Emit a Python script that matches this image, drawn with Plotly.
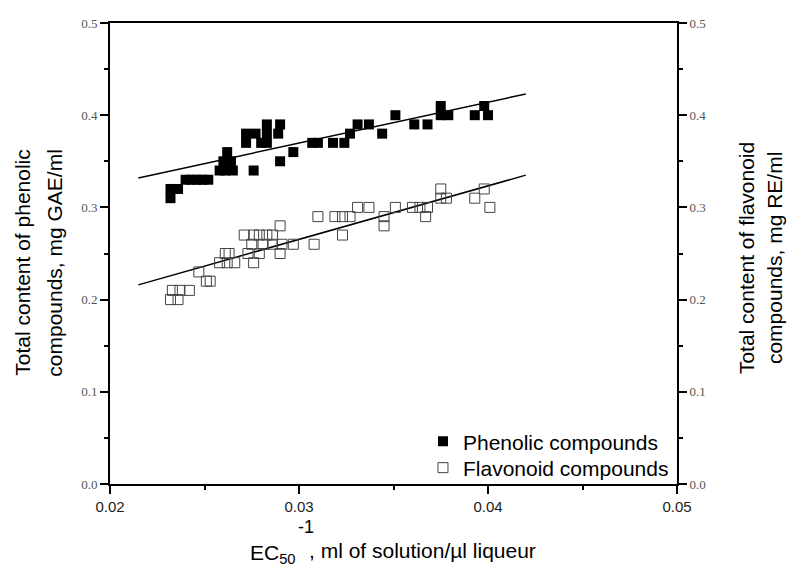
import plotly.graph_objects as go

# ---- data ----
phen_x = [0.0232, 0.0232, 0.0236, 0.0240, 0.0243, 0.0246, 0.0249, 0.0252,
          0.0258, 0.0261, 0.0265, 0.0260, 0.0264, 0.0262, 0.0276,
          0.0272, 0.0277, 0.0283, 0.0289, 0.0272, 0.0280, 0.0283,
          0.0283, 0.0290, 0.0290, 0.0297, 0.0307, 0.0310, 0.0318, 0.0324,
          0.0327, 0.0331, 0.0337, 0.0344, 0.0351, 0.0361, 0.0368,
          0.0375, 0.0375, 0.0379, 0.0393, 0.0398, 0.0400]
phen_y = [0.31, 0.32, 0.32, 0.33, 0.33, 0.33, 0.33, 0.33,
          0.34, 0.34, 0.34, 0.35, 0.35, 0.36, 0.34,
          0.38, 0.38, 0.38, 0.38, 0.37, 0.37, 0.37,
          0.39, 0.39, 0.35, 0.36, 0.37, 0.37, 0.37, 0.37,
          0.38, 0.39, 0.39, 0.38, 0.40, 0.39, 0.39,
          0.41, 0.40, 0.40, 0.40, 0.41, 0.40]

flav_x = [0.0232, 0.0236, 0.0233, 0.0237, 0.0242, 0.0251, 0.0253, 0.0247,
          0.0258, 0.0262, 0.0266, 0.0261, 0.0263,
          0.0271, 0.0276, 0.0279, 0.0283, 0.0286, 0.0275, 0.0281, 0.0286,
          0.0273, 0.0279, 0.0276, 0.0291, 0.0290, 0.0290, 0.0297, 0.0308,
          0.0310, 0.0319, 0.0323, 0.0327, 0.0323, 0.0331, 0.0337,
          0.0345, 0.0345, 0.0351, 0.0360, 0.0364, 0.0368, 0.0367,
          0.0375, 0.0375, 0.0378, 0.0393, 0.0398, 0.0401]
flav_y = [0.20, 0.20, 0.21, 0.21, 0.21, 0.22, 0.22, 0.23,
          0.24, 0.24, 0.24, 0.25, 0.25,
          0.27, 0.27, 0.27, 0.27, 0.27, 0.26, 0.26, 0.26,
          0.25, 0.25, 0.24, 0.26, 0.25, 0.28, 0.26, 0.26,
          0.29, 0.29, 0.29, 0.29, 0.27, 0.30, 0.30,
          0.29, 0.28, 0.30, 0.30, 0.30, 0.30, 0.29,
          0.32, 0.31, 0.31, 0.31, 0.32, 0.30]

# linear fit lines (end points)
phen_fit_x = [0.0215, 0.0420]
phen_fit_y = [0.332, 0.423]
flav_fit_x = [0.0215, 0.0420]
flav_fit_y = [0.216, 0.335]

x_ticks = [0.02, 0.03, 0.04, 0.05]
x_tick_labels = ["0.02", "0.03", "0.04", "0.05"]
y_ticks = [0.0, 0.1, 0.2, 0.3, 0.4, 0.5]
y_tick_labels = ["0.0", "0.1", "0.2", "0.3", "0.4", "0.5"]

fig = go.Figure()
fig.add_trace(go.Scatter(x=phen_fit_x, y=phen_fit_y, mode="lines",
                         line=dict(color="black", width=1.5), showlegend=False))
fig.add_trace(go.Scatter(x=flav_fit_x, y=flav_fit_y, mode="lines",
                         line=dict(color="black", width=1.5), showlegend=False))
fig.add_trace(go.Scatter(x=phen_x, y=phen_y, mode="markers", name="Phenolic compounds",
                         legend="legend",
                         marker=dict(symbol="square", size=10, color="black",
                                     line=dict(width=0))))
fig.add_trace(go.Scatter(x=flav_x, y=flav_y, mode="markers", name="Flavonoid compounds",
                         legend="legend2",
                         marker=dict(symbol="square-open", size=10, color="#444444",
                                     line=dict(width=1))))
# invisible trace to activate the right axis
fig.add_trace(go.Scatter(x=[0.02], y=[0], yaxis="y2", mode="markers",
                         marker=dict(opacity=0), showlegend=False, hoverinfo="skip"))

serif = "Liberation Serif, Times New Roman, serif"
sans = "Liberation Sans, Arial, sans-serif"
TITLE_SIZE = 21

yaxis_common = dict(range=[0, 0.5], tickvals=y_ticks, ticktext=y_tick_labels,
                    showgrid=False, zeroline=False, showline=True, linecolor="black",
                    linewidth=2, ticks="outside", ticklen=8, tickwidth=1.5, tickcolor="black",
                    tickfont=dict(family=serif, size=13, color="#555555"),
                    minor=dict(ticks="outside", ticklen=4, tickwidth=1.5, tickcolor="black",
                               dtick=0.05, showgrid=False))

legend_common = dict(xanchor="left", yanchor="middle", bgcolor="rgba(0,0,0,0)",
                     font=dict(family=sans, size=TITLE_SIZE, color="black"), itemwidth=30)

fig.update_layout(
    width=787, height=573,
    margin=dict(l=110, r=110, t=23, b=89),
    paper_bgcolor="white", plot_bgcolor="white",
    font=dict(family=sans, color="black"),
    xaxis=dict(range=[0.02, 0.05], tickvals=x_ticks, ticktext=x_tick_labels,
               showgrid=False, zeroline=False, showline=True, linecolor="black",
               linewidth=2, mirror=True, ticks="outside", ticklen=8, tickwidth=1.5,
               tickcolor="black", tickfont=dict(family=sans, size=15, color="#222222"),
               minor=dict(ticks="outside", ticklen=4, tickwidth=1.5, tickcolor="black",
                          dtick=0.005, showgrid=False)),
    yaxis=dict(**yaxis_common),
    yaxis2=dict(**yaxis_common, overlaying="y", side="right"),
    legend=dict(x=0.552, y=0.0918, **legend_common),
    legend2=dict(x=0.552, y=0.0347, **legend_common),
    showlegend=True,
)

def ann(text, x, y, size=TITLE_SIZE, angle=0, xanchor="center"):
    fig.add_annotation(text=text, xref="paper", yref="paper", x=x, y=y,
                       xanchor=xanchor, yanchor="middle", textangle=angle,
                       showarrow=False, borderpad=0,
                       font=dict(family=sans, size=size, color="black"))

# left axis title (two lines)
ann("Total content of phenolic", -0.1534, 0.48, angle=-90)
ann("compounds, mg GAE/ml", -0.097, 0.48, angle=-90)
# right axis title (two lines)
ann("Total content of flavonoid", 1.1217, 0.49, angle=-90)
ann("compounds, mg RE/ml", 1.171, 0.49, angle=-90)
# x axis title
ann("EC<sub>50</sub>", 0.2451, -0.152, size=21, xanchor="left")
ann("-1", 0.3300, -0.0933, size=18, xanchor="left")
ann(", ml of solution/µl liqueur", 0.3492, -0.1453, size=21, xanchor="left")

fig.write_html("out.html", post_script="document.body.style.margin='0px';",
               config={"displayModeBar": False})
